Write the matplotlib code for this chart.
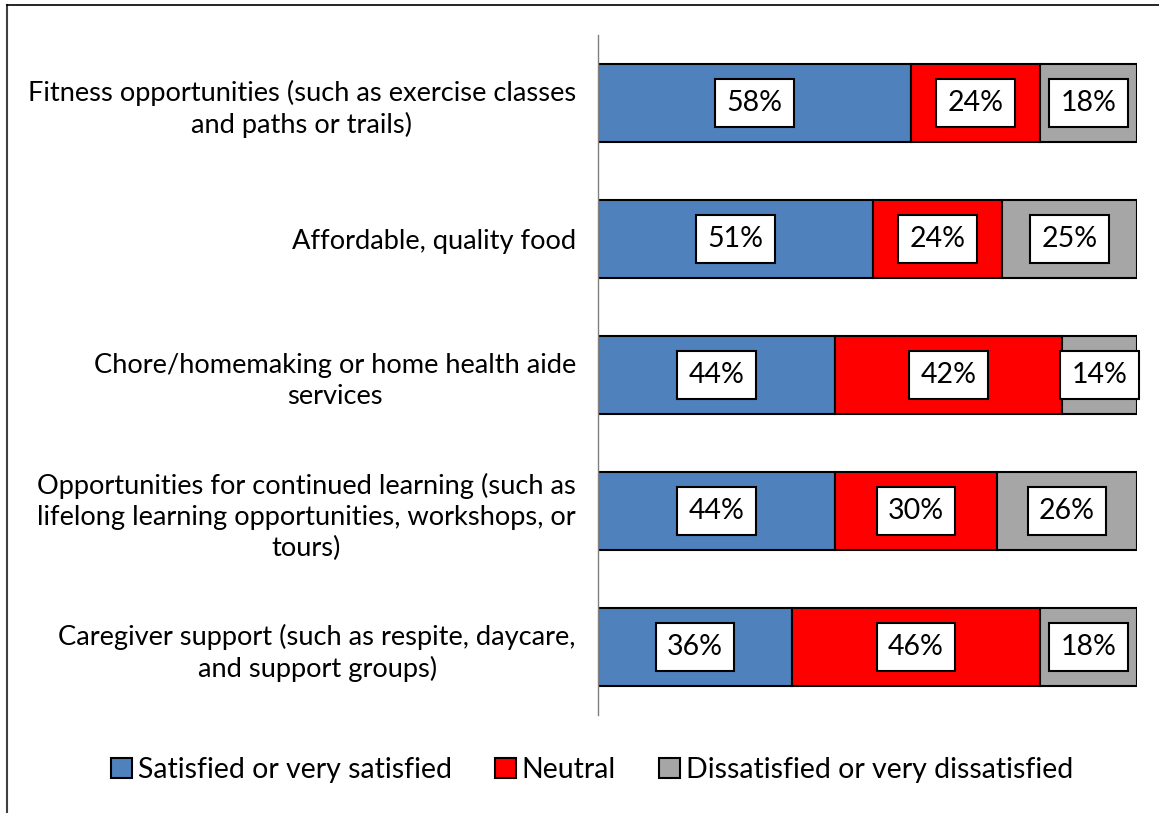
import matplotlib
matplotlib.use("Agg")
import matplotlib.pyplot as plt
from matplotlib.patches import Patch
from matplotlib.lines import Line2D

categories = [
    "Fitness opportunities (such as exercise classes\nand paths or trails)",
    "Affordable, quality food",
    "Chore/homemaking or home health aide\nservices",
    "Opportunities for continued learning (such as\nlifelong learning opportunities, workshops, or\ntours)",
    "Caregiver support (such as respite, daycare,\nand support groups)",
]
satisfied = [58, 51, 44, 44, 36]
neutral = [24, 24, 42, 30, 46]
dissatisfied = [18, 25, 14, 26, 18]
series_names = ["Satisfied or very satisfied", "Neutral", "Dissatisfied or very dissatisfied"]
colors = ["#4F81BD", "#FF0000", "#A6A6A6"]

plt.rcParams['font.family'] = ['Lato', 'DejaVu Sans']

fig = plt.figure(figsize=(11.59, 8.13), dpi=100)
ax = fig.add_axes([598/1159, 1-715/813, 539/1159, 680/813])

y = list(range(len(categories)))
left = [0]*len(categories)
for vals, col, name in zip([satisfied, neutral, dissatisfied], colors, series_names):
    ax.barh(y, vals, left=left, height=0.57, color=col, edgecolor='black', linewidth=1.5, label=name)
    for yi, l, v in zip(y, left, vals):
        ax.text(l + v/2, yi, f"{v}%", ha='center', va='center', fontsize=20.5,
                bbox=dict(boxstyle='square,pad=0.4', facecolor='white', edgecolor='black', linewidth=1.5))
    left = [a+b for a, b in zip(left, vals)]

ax.set_xlim(0, 100)
ax.set_ylim(len(categories)-0.5, -0.5)
ax.set_yticks(y)
ax.set_yticklabels(categories, fontsize=19.6, ha='right', multialignment='center', linespacing=1.3)
ax.tick_params(axis='y', length=0, pad=16)
ax.set_xticks([])
for s in ['top', 'right', 'bottom']:
    ax.spines[s].set_visible(False)
ax.spines['left'].set_color('#808080')
ax.spines['left'].set_linewidth(1)

handles = [Patch(facecolor=c, edgecolor='black', linewidth=1.5, label=n) for c, n in zip(colors, series_names)]
fig.legend(handles=handles, loc='center', bbox_to_anchor=(592/1159, 1-770/813), ncol=3, frameon=False,
           fontsize=20.5, handlelength=0.75, handleheight=0.75, handletextpad=0.2, columnspacing=1.5)

# outer chart border (top and left visible)
fig.add_artist(Line2D([7/1159, 7/1159], [0, 1-5/813], transform=fig.transFigure, color='#404040', linewidth=1.5))
fig.add_artist(Line2D([7/1159, 1], [1-5/813, 1-5/813], transform=fig.transFigure, color='black', linewidth=1.2))

fig.savefig("out.png", dpi=100)
